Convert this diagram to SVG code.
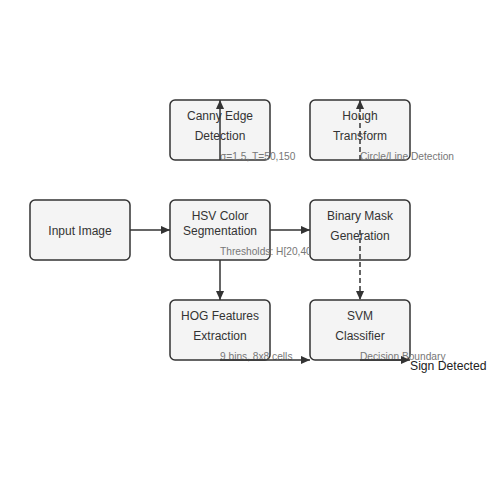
<svg xmlns="http://www.w3.org/2000/svg" width="500" height="500" viewBox="0 0 500 500">
<style>
.box{fill:#f4f4f4;stroke:#333;stroke-width:1.5}
.t{font-family:"Liberation Sans",Arial,sans-serif;font-size:12px;fill:#333;text-anchor:middle}
.e{stroke:#333;stroke-width:1.5;fill:none}
.d{stroke-dasharray:5,3}
.lbl{font-family:"Liberation Sans",Arial,sans-serif;font-size:10.2px;fill:#777}
.out{font-family:"Liberation Sans",Arial,sans-serif;font-size:12.2px;fill:#222}
</style>
<defs>
<marker id="arr" viewBox="0 0 10 10" refX="10" refY="5" markerWidth="9" markerHeight="9" markerUnits="userSpaceOnUse" orient="auto">
<path d="M0,0.5 L10,5 L0,9.5 z" fill="#333"/>
</marker>
<clipPath id="clipTh"><rect x="0" y="0" width="310" height="500"/></clipPath>
</defs>
<rect width="500" height="500" fill="#fff"/>
<g id="input"><rect class="box" x="30" y="200" width="100" height="60" rx="5"/><text class="t" x="80" y="235">Input Image</text></g>
<g id="hsv"><rect class="box" x="170" y="200" width="100" height="60" rx="5"/><text class="t" x="220" y="220">HSV Color</text><text class="t" x="220" y="235">Segmentation</text></g>
<g id="canny"><rect class="box" x="170" y="100" width="100" height="60" rx="5"/><text class="t" x="220" y="120">Canny Edge</text><text class="t" x="220" y="140">Detection</text></g>
<g id="hough"><rect class="box" x="310" y="100" width="100" height="60" rx="5"/><text class="t" x="360" y="120">Hough</text><text class="t" x="360" y="140">Transform</text></g>
<g id="hog"><rect class="box" x="170" y="300" width="100" height="60" rx="5"/><text class="t" x="220" y="320">HOG Features</text><text class="t" x="220" y="340">Extraction</text></g>
<g id="svm"><rect class="box" x="310" y="300" width="100" height="60" rx="5"/><text class="t" x="360" y="320">SVM</text><text class="t" x="360" y="340">Classifier</text></g>
<g id="binary"><rect class="box" x="310" y="200" width="100" height="60" rx="5"/><text class="t" x="360" y="220">Binary Mask</text><text class="t" x="360" y="240">Generation</text></g>
<g id="connectors">
<text class="lbl" x="220" y="160">σ=1.5, T=50,150</text>
<text class="lbl" x="360" y="160">Circle/Line Detection</text>
<text class="lbl" x="220" y="255" clip-path="url(#clipTh)">Thresholds: H[20,40]</text>
<text class="lbl" x="220" y="360">9 bins, 8x8 cells</text>
<text class="lbl" x="360" y="360">Decision Boundary</text>
<line class="e" x1="130" y1="230" x2="170" y2="230" marker-end="url(#arr)"/>
<line class="e" x1="270" y1="230" x2="310" y2="230" marker-end="url(#arr)"/>
<line class="e" x1="220" y1="160" x2="220" y2="100" marker-end="url(#arr)"/>
<line class="e d" x1="360" y1="160" x2="360" y2="100" marker-end="url(#arr)"/>
<line class="e" x1="220" y1="260" x2="220" y2="300" marker-end="url(#arr)"/>
<line class="e d" x1="360" y1="230" x2="360" y2="300" marker-end="url(#arr)"/>
<line class="e" x1="220" y1="360" x2="310" y2="360" marker-end="url(#arr)"/>
<line class="e" x1="360" y1="360" x2="410" y2="360" marker-end="url(#arr)"/>
</g>
<text class="out" x="410" y="370">Sign Detected</text>
</svg>
